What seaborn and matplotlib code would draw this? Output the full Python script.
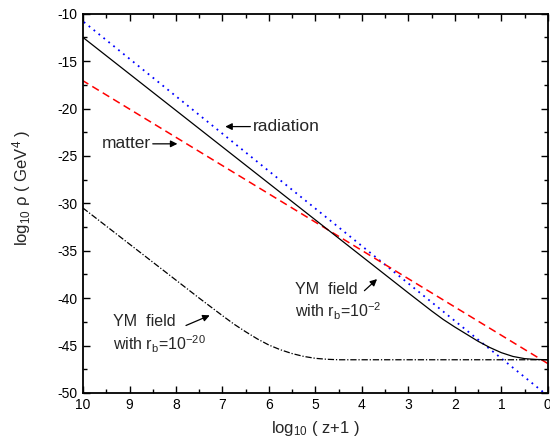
import pandas as pd
import numpy as np
import matplotlib
matplotlib.use("Agg")
import matplotlib.pyplot as plt
import seaborn as sns
from matplotlib.ticker import MultipleLocator

# data (x = log10(z+1), y = log10 rho)
rad_x = [10, 0]
rad_y = [-10.8, -50.3]

mat_x = [10, 0]
mat_y = [-17.07, -46.9]

ym2_x = [10, 8, 6, 4, 3, 2.75, 2.5, 2.25, 2, 1.75, 1.5, 1.25, 1.0, 0.75,
         0.5, 0.25, 0]
ym2_y = [-12.5, -20.2, -27.9, -35.6, -39.45, -40.4, -41.35, -42.25, -43.05,
         -43.8, -44.55, -45.2, -45.75, -46.15, -46.38, -46.47, -46.5]

ym20_x = [10, 9, 8, 7.5, 7, 6.75, 6.5, 6.25, 6, 5.75, 5.5, 5.25, 5, 4.75,
          4.5, 4, 0]
ym20_y = [-30.5, -34.3, -38.1, -40.0, -41.85, -42.75, -43.55, -44.3, -44.95,
          -45.45, -45.85, -46.15, -46.35, -46.45, -46.5, -46.5, -46.5]

sns.set_theme(style="ticks")
plt.rcParams['font.family'] = ['Liberation Sans', 'DejaVu Sans']
plt.rcParams['mathtext.default'] = 'regular'
plt.rcParams['axes.unicode_minus'] = False

fig = plt.figure(figsize=(5.5, 4.45), dpi=100)
ax = fig.add_axes([0.151, 0.117, 0.845, 0.852])

sns.lineplot(x=rad_x, y=rad_y, ax=ax, color='blue', lw=1.3,
             linestyle=(0, (1, 2.5)))
sns.lineplot(x=mat_x, y=mat_y, ax=ax, color='red', lw=1.1,
             linestyle=(0, (5, 3)))
sns.lineplot(x=ym2_x, y=ym2_y, ax=ax, color='black', lw=0.9)
sns.lineplot(x=ym20_x, y=ym20_y, ax=ax, color='black', lw=0.9,
             linestyle=(0, (5, 1.5, 1, 1.5)))

ax.set_xlim(10, 0)
ax.set_ylim(-50, -10)
ax.xaxis.set_major_locator(MultipleLocator(1))
ax.xaxis.set_minor_locator(MultipleLocator(0.5))
ax.yaxis.set_major_locator(MultipleLocator(5))
ax.yaxis.set_minor_locator(MultipleLocator(2.5))
ax.tick_params(which='both', direction='in', top=True, right=True,
               labelsize=10, colors='black', width=1)
ax.tick_params(which='major', length=5, pad=4)
ax.tick_params(which='minor', length=3)
for s in ax.spines.values():
    s.set_linewidth(1.3)
    s.set_color('black')

ax.set_xlabel('log$_{10}$ ( z+1 )', fontsize=12)
ax.set_ylabel('log$_{10}$ ρ ( GeV$^{4}$ )', fontsize=12)
ax.xaxis.set_label_coords(0.5, -0.068)
ax.yaxis.set_label_coords(-0.107, 0.54)

arr = dict(arrowstyle='-|>', color='black', lw=0.9, mutation_scale=10)
ax.annotate('', xy=(7.0, -21.9), xytext=(6.34, -21.9), arrowprops=arr)
ax.text(6.34, -21.9, 'radiation', fontsize=12.5, va='center', ha='left')

ax.annotate('', xy=(7.91, -23.72), xytext=(8.56, -23.72), arrowprops=arr)
ax.text(9.6, -23.72, 'matter', fontsize=12.5, va='center', ha='left')

ax.annotate('', xy=(7.22, -41.7), xytext=(7.84, -43.0), arrowprops=arr)
ax.text(9.35, -42.47, 'YM  field', fontsize=11.5, va='center', ha='left')
ax.text(9.35, -44.9, 'with r$_b$=10$^{-20}$', fontsize=11.5, va='center', ha='left')

ax.annotate('', xy=(3.63, -37.79), xytext=(3.99, -39.41), arrowprops=arr)
ax.text(5.44, -39.13, 'YM  field', fontsize=11.5, va='center', ha='left')
ax.text(5.44, -41.42, 'with r$_b$=10$^{-2}$', fontsize=11.5, va='center', ha='left')

fig.savefig('out.png', dpi=100)
